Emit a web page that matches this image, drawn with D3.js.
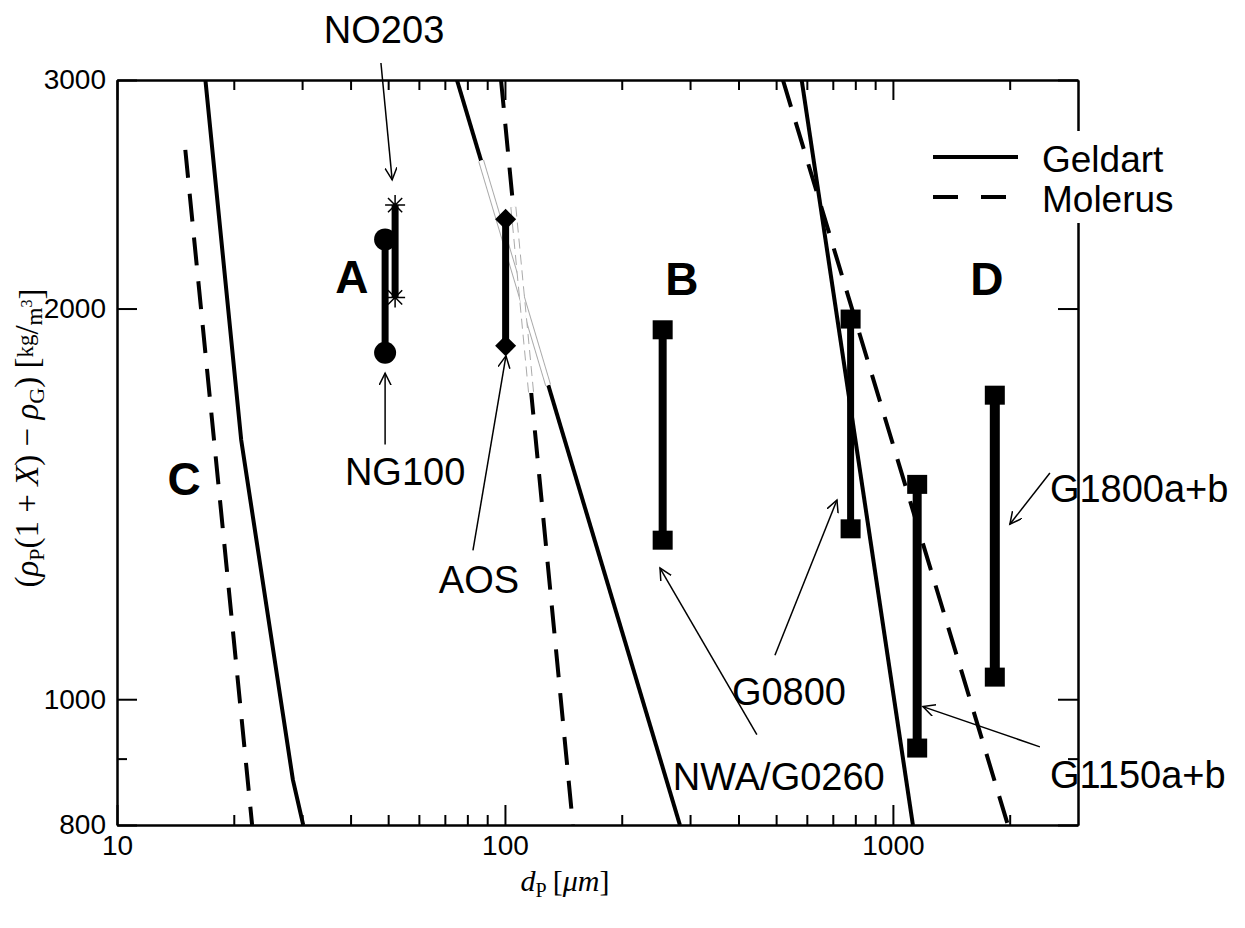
<!DOCTYPE html>
<html>
  <head>
    <title>Geldart / Molerus diagram</title>
    <script src="https://d3js.org/d3.v7.min.js"></script>
    <style>
      body { margin: 0; background: #fff; }
      text { font-family: "Liberation Sans", Arial, sans-serif; fill: #000; }
      .serif { font-family: "Liberation Serif", "DejaVu Serif", serif; }
    </style>
  </head>
  <body>
    <script>

      // ticks
      var xTicksMajor = [10, 100, 1000];
      var xTicksMinor = [20, 30, 40, 50, 60, 70, 80, 90, 200, 300, 400, 500, 600, 700, 800, 900, 2000];
      var yTicksMajor = [800, 1000, 2000, 3000];
      var yTicksMinor = [900];

      // boundary lines [d_P in um, density in kg/m3]
      var geldartCA = [[16.9, 3000], [20.9, 1584], [26.8, 972], [28.4, 867], [30.2, 800]];
      var molerusCA = [[15.0, 2650], [22.3, 800]];
      var geldartAB = [[75.2, 3000], [282.5, 800]];
      var geldartABHidden = [[86.8, 2600], [129.2, 1746]];
      var molerusAB = [[97.7, 3000], [149.7, 800]];
      var molerusABHidden = [[105.1, 2395], [116.8, 1722]];
      var geldartBD = [[581.9, 3000], [1126, 800]];
      var molerusBD = [[520.6, 3000], [1979, 800]];

      // measured powders
      var powders = ["NG100", "NO203", "AOS", "NWA/G0260", "G0800", "G1150a+b", "G1800a+b"];
      var powderDp = [49.1, 52.1, 100.4, 255, 778, 1155, 1831];
      var rhoLow = [1849, 2040, 1872, 1326, 1353, 917, 1040];
      var rhoHigh = [2261, 2403, 2343, 1926, 1963, 1464, 1715];
      var symbols = ["circle", "star", "diamond", "square", "square", "square", "square"];

      // annotation: label position, arrow tail, arrow tip (data coords)
      var annLabel = [[55.3, 1462], [48.8, 3205], [85.7, 1207], [508, 851], [539.5, 990], [2539, 854], [2539, 1418]];
      var annTail = [[49.1, 1571], [47.9, 3092], [82.7, 1302], [446, 939], [496.5, 1081], [2393, 919], [2539, 1494]];
      var annTip = [[49.1, 1783], [51.2, 2513], [100.6, 1839], [251, 1262], [717.5, 1424], [1195, 987], [2002, 1364]];
      var annAnchor = ["middle", "middle", "middle", "middle", "middle", "start", "start"];

      // region letters
      var regions = ["A", "B", "C", "D"];
      var regionPos = [[40.3, 2056], [285.9, 2049], [14.9, 1437], [1747, 2049]];

      var W = 1245, H = 928;
      var mLeft = 117, mRight = 1078, mTop = 80, mBottom = 825;

      var svg = d3.select("body").append("svg")
        .attr("width", W)
        .attr("height", H);

      svg.append("rect").attr("width", W).attr("height", H).attr("fill", "#fff");

      var x = d3.scaleLog().domain([10, 3000]).range([mLeft, mRight]);
      var y = d3.scaleLog().domain([800, 3000]).range([mBottom, mTop]);

      var defs = svg.append("defs");
      defs.append("clipPath").attr("id", "clip")
        .append("rect")
        .attr("x", mLeft).attr("y", mTop)
        .attr("width", mRight - mLeft).attr("height", mBottom - mTop);

      defs.append("marker")
        .attr("id", "arrow")
        .attr("markerUnits", "userSpaceOnUse")
        .attr("markerWidth", 20).attr("markerHeight", 20)
        .attr("refX", 12).attr("refY", 6)
        .attr("orient", "auto")
        .append("path")
        .attr("d", "M0,0 L12,6 L0,12")
        .attr("fill", "none")
        .attr("stroke", "#000")
        .attr("stroke-width", 1.5);

      var line = d3.line().x(function(d) { return x(d[0]); }).y(function(d) { return y(d[1]); });

      var plot = svg.append("g").attr("clip-path", "url(#clip)");

      // boundary lines
      var dash = "28,16";
      [[geldartCA, null], [molerusCA, dash], [geldartAB, null], [molerusAB, dash], [geldartBD, null], [molerusBD, dash]]
        .forEach(function(p) {
          plot.append("path")
            .attr("d", line(p[0]))
            .attr("fill", "none")
            .attr("stroke", "#000")
            .attr("stroke-width", 4)
            .attr("stroke-dasharray", p[1]);
        });

      // hidden parts drawn as thin grey outlines
      [[geldartABHidden, null], [molerusABHidden, dash]].forEach(function(p) {
        plot.append("path").attr("d", line(p[0]))
          .attr("fill", "none").attr("stroke", "#fff").attr("stroke-width", 8);
      });
      [[geldartABHidden, null], [molerusABHidden, "10,6"]].forEach(function(p) {
        plot.append("path").attr("d", line(p[0]))
          .attr("fill", "none").attr("stroke", "#aaa").attr("stroke-width", 6)
          .attr("stroke-dasharray", p[1]);
        plot.append("path").attr("d", line(p[0]))
          .attr("fill", "none").attr("stroke", "#fff").attr("stroke-width", 4);
      });

      // axes
      function styleAxis(g) {
        g.select(".domain").attr("stroke-width", 2);
        g.selectAll(".tick line").attr("stroke-width", 2);
        g.selectAll("text").style("font-size", "28px").style("font-family", "Liberation Sans, Arial, sans-serif");
      }
      var fmt = d3.format("d");

      function addAxis(axis, tx, ty, values, size, labels, pad) {
        var a = axis.tickValues(values).tickSizeInner(size).tickSizeOuter(0)
          .tickFormat(labels ? fmt : "");
        if (pad) a.tickPadding(pad);
        var g = svg.append("g").attr("transform", "translate(" + tx + "," + ty + ")").call(a);
        styleAxis(g);
      }

      addAxis(d3.axisBottom(x), 0, mBottom, xTicksMajor, -20, true, 10);
      addAxis(d3.axisBottom(x), 0, mBottom, xTicksMinor, -10, false);
      addAxis(d3.axisTop(x), 0, mTop, xTicksMajor, -20, false);
      addAxis(d3.axisTop(x), 0, mTop, xTicksMinor, -10, false);
      addAxis(d3.axisLeft(y), mLeft, 0, yTicksMajor, -20, true, 11);
      addAxis(d3.axisLeft(y), mLeft, 0, yTicksMinor, -10, false);
      addAxis(d3.axisRight(y), mRight, 0, yTicksMajor, -20, false);
      addAxis(d3.axisRight(y), mRight, 0, yTicksMinor, -10, false);

      // error bars with end symbols
      var barWidth = [7, 7, 7, 8, 7, 9, 10];
      powders.forEach(function(name, i) {
        var g = svg.append("g");
        g.append("line")
          .attr("x1", x(powderDp[i])).attr("x2", x(powderDp[i]))
          .attr("y1", y(rhoLow[i])).attr("y2", y(rhoHigh[i]))
          .attr("stroke", "#000").attr("stroke-width", barWidth[i]);
        [rhoLow[i], rhoHigh[i]].forEach(function(v) {
          var cx = x(powderDp[i]), cy = y(v);
          if (symbols[i] === "circle") {
            g.append("circle").attr("cx", cx).attr("cy", cy).attr("r", 11).attr("fill", "#000");
          } else if (symbols[i] === "square") {
            g.append("rect").attr("x", cx - 10).attr("y", cy - 9.5).attr("width", 20).attr("height", 19).attr("fill", "#000");
          } else if (symbols[i] === "diamond") {
            g.append("path")
              .attr("d", d3.symbol(d3.symbolSquare, 220)())
              .attr("transform", "translate(" + cx + "," + cy + ") rotate(45)")
              .attr("fill", "#000");
          } else {
            var r = 10, s = 7.1;
            g.append("path")
              .attr("d", "M" + (cx - r) + "," + cy + "h" + 2 * r +
                         "M" + cx + "," + (cy - r) + "v" + 2 * r +
                         "M" + (cx - s) + "," + (cy - s) + "l" + 2 * s + "," + 2 * s +
                         "M" + (cx - s) + "," + (cy + s) + "l" + 2 * s + "," + (-2 * s))
              .attr("stroke", "#000").attr("stroke-width", 1.5);
          }
        });
      });

      // annotations
      powders.forEach(function(name, i) {
        svg.append("line")
          .attr("x1", x(annTail[i][0])).attr("y1", y(annTail[i][1]))
          .attr("x2", x(annTip[i][0])).attr("y2", y(annTip[i][1]))
          .attr("stroke", "#000").attr("stroke-width", 1.5)
          .attr("marker-end", "url(#arrow)");
        svg.append("text")
          .attr("x", x(annLabel[i][0])).attr("y", y(annLabel[i][1]))
          .attr("text-anchor", annAnchor[i])
          .style("font-size", "38px")
          .text(name);
      });

      // region letters
      regions.forEach(function(r, i) {
        svg.append("text")
          .attr("x", x(regionPos[i][0])).attr("y", y(regionPos[i][1]))
          .attr("text-anchor", "middle")
          .style("font-size", "46px").style("font-weight", "bold")
          .text(r);
      });

      // legend
      var leg = svg.append("g");
      leg.append("rect").attr("x", 925).attr("y", 131).attr("width", 265).attr("height", 92).attr("fill", "#fff");
      leg.append("line").attr("x1", 933).attr("x2", 1018).attr("y1", 157).attr("y2", 157)
        .attr("stroke", "#000").attr("stroke-width", 4);
      leg.append("line").attr("x1", 933).attr("x2", 1018).attr("y1", 197).attr("y2", 197)
        .attr("stroke", "#000").attr("stroke-width", 4).attr("stroke-dasharray", "25,23");
      leg.append("text").attr("x", 1042).attr("y", 172).style("font-size", "37px").text("Geldart");
      leg.append("text").attr("x", 1042).attr("y", 212).style("font-size", "37px").text("Molerus");

      // axis titles
      var xt = svg.append("text").attr("class", "serif")
        .attr("x", 565).attr("y", 891)
        .attr("text-anchor", "middle")
        .style("font-size", "30px");
      xt.append("tspan").style("font-style", "italic").text("d");
      xt.append("tspan").attr("dy", 6).style("font-size", "20px").text("P");
      xt.append("tspan").attr("dy", -6).attr("dx", 6).text("[");
      xt.append("tspan").style("font-style", "italic").text("μm");
      xt.append("tspan").text("]");

      var yt = svg.append("text").attr("class", "serif")
        .attr("transform", "translate(38,438) rotate(-90)")
        .attr("text-anchor", "middle")
        .style("font-size", "33px");
      yt.append("tspan").text("(");
      yt.append("tspan").style("font-style", "italic").text("ρ");
      yt.append("tspan").attr("dy", 6).style("font-size", "22px").text("P");
      yt.append("tspan").attr("dy", -6).text("(1 + ");
      yt.append("tspan").style("font-style", "italic").text("X");
      yt.append("tspan").text(") − ");
      yt.append("tspan").style("font-style", "italic").text("ρ");
      yt.append("tspan").attr("dy", 6).style("font-size", "22px").text("G");
      yt.append("tspan").attr("dy", -6).text(")  [");
      yt.append("tspan").attr("dy", -5).style("font-size", "23px").text("kg");
      yt.append("tspan").attr("dy", 5).text("/");
      yt.append("tspan").attr("dy", 4).style("font-size", "23px").text("m");
      yt.append("tspan").attr("dy", -10).style("font-size", "16px").text("3");
      yt.append("tspan").attr("dy", 10).text("]");

    </script>
  </body>
</html>
